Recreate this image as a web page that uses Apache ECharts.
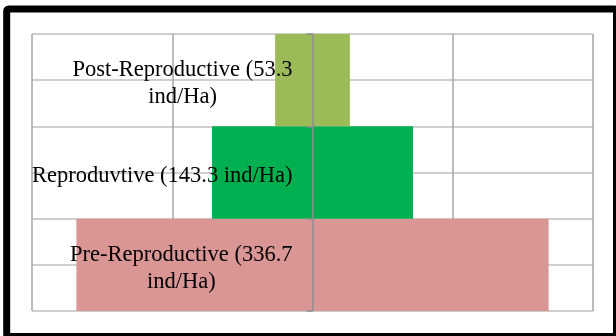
<!DOCTYPE html>
<html>
<head>
<meta charset="utf-8">
<script src="https://cdn.jsdelivr.net/npm/echarts@6/dist/echarts.min.js"></script>
<style>
  html, body { margin: 0; padding: 0; background: #fff; }
  #chart { width: 616px; height: 336px; }
</style>
</head>
<body>
<div id="chart"></div>
<script>
// Age-class structure, bottom to top: youngest class at the base of the pyramid
const categories = ['Pre-Reproductive', 'Reproduvtive', 'Post-Reproductive'];
const density = [336.7, 143.3, 53.3];          // ind/Ha
const barColors = ['#D99694', '#00B050', '#9BBB59'];
const unit = 'ind/Ha';

// Each class is split evenly either side of the centre axis
const leftHalf = density.map(v => -v / 2);
const rightHalf = density.map(v => v / 2);

function classLabel(value, index) {
  const full = categories[index] + ' (' + density[index] + ' ' + unit + ')';
  const lines = full.length > 28
    ? [categories[index] + ' (' + density[index], unit + ')']
    : [full];
  return lines.map(l => '{c|' + l + '}').join('\n');
}

const chart = echarts.init(document.getElementById('chart'), null, { renderer: 'canvas' });

function halfSeries(values) {
  return {
    type: 'bar',
    stack: 'pyramid',
    yAxisIndex: 0,
    barCategoryGap: 0,
    silent: true,
    data: values.map((v, i) => ({ value: v, itemStyle: { color: barColors[i] } }))
  };
}

const gridLeft = 32;
const gridRight = 23;
const plotWidth = 616 - gridLeft - gridRight;
// class labels sit just left of the centre axis
const labelGap = 20;
const labelMargin = -(plotWidth / 2 - labelGap);

chart.setOption({
  animation: false,
  backgroundColor: '#fff',
  grid: { left: gridLeft, right: gridRight, top: 34, bottom: 25, containLabel: false, outerBoundsMode: 'none' },
  xAxis: {
    type: 'value',
    min: -200,
    max: 200,
    interval: 100,
    axisLine: { show: false },
    axisTick: { show: false },
    axisLabel: { show: false },
    splitLine: { show: true, lineStyle: { color: '#a6a6a6', width: 1.5 } }
  },
  yAxis: [
    {
      type: 'category',
      data: categories,
      z: 3,
      axisLine: { show: true, onZero: true, lineStyle: { color: '#8c8c8c', width: 1.5 } },
      axisTick: { show: true, length: 6, inside: false, lineStyle: { color: '#8c8c8c', width: 1.5 } },
      splitLine: { show: false },
      axisLabel: {
        show: true,
        interval: 0,
        margin: labelMargin,
        align: 'right',
        padding: [7, 0, 0, 0],
        formatter: classLabel,
        rich: {
          c: {
            fontFamily: '"Liberation Serif", "Times New Roman", serif',
            fontSize: 22.5,
            lineHeight: 27,
            color: '#000',
            align: 'center'
          }
        }
      }
    },
    {
      // half-band rules across the plot
      type: 'value',
      min: 0,
      max: 6,
      interval: 1,
      position: 'right',
      axisLine: { show: false },
      axisTick: { show: false },
      axisLabel: { show: false },
      splitLine: { show: true, lineStyle: { color: '#bfbfbf', width: 1.5 } }
    }
  ],
  series: [halfSeries(leftHalf), halfSeries(rightHalf)],
  graphic: [{
    type: 'rect',
    silent: true,
    z: 100,
    shape: { x: 6.7, y: 9, width: 609.8, height: 327.5, r: 2 },
    style: { fill: 'none', stroke: '#000', lineWidth: 7 }
  }]
});
</script>
</body>
</html>
